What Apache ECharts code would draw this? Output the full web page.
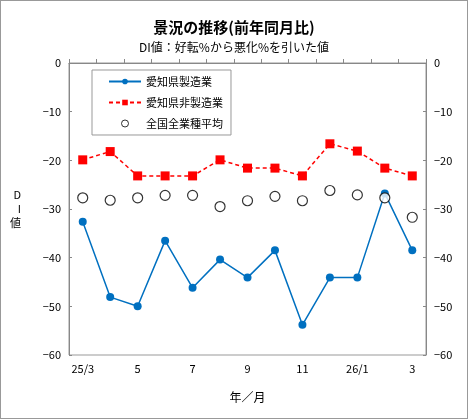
<!DOCTYPE html>
<html>
<head>
<meta charset="utf-8">
<script src="https://cdn.jsdelivr.net/npm/echarts@6/dist/echarts.min.js"></script>
<style>
  html, body { margin: 0; padding: 0; background: #fff; }
  #chart { width: 468px; height: 419px; box-sizing: border-box; border: 1px solid #999; }
</style>
</head>
<body>
<div id="chart"></div>
<script>
// 年／月
const months = ["25/3", "4", "5", "6", "7", "8", "9", "10", "11", "12", "26/1", "2", "3"];
// 愛知県製造業
const aichiMfg = [-32.6, -48.1, -50.0, -36.5, -46.2, -40.4, -44.1, -38.5, -53.8, -44.1, -44.1, -26.8, -38.5];
// 愛知県非製造業
const aichiNonMfg = [-19.9, -18.2, -23.2, -23.2, -23.2, -19.9, -21.6, -21.6, -23.2, -16.6, -18.1, -21.6, -23.2];
// 全国全業種平均
const nationAll = [-27.7, -28.2, -27.7, -27.2, -27.2, -29.5, -28.3, -27.4, -28.3, -26.2, -27.1, -27.7, -31.7];

const font = '"Noto Sans CJK JP", sans-serif';
const minus = (v) => String(v).replace("-", "−");

const yAxisBase = {
  type: "value",
  min: -60,
  max: 0,
  interval: 10,
  axisLine: { show: true, lineStyle: { color: "#888" } },
  axisTick: { show: true, inside: true, length: 3, lineStyle: { color: "#888" } },
  splitLine: { show: false },
  axisLabel: { color: "#000", fontSize: 11, fontFamily: font, formatter: minus },
};

const option = {
  animation: false,
  textStyle: { fontFamily: font },
  title: [
    {
      text: "景況の推移(前年同月比)",
      left: "center",
      top: 14,
      textStyle: { fontSize: 15, fontWeight: "bold", color: "#000", fontFamily: font },
    },
    {
      text: "DI値：好転%から悪化%を引いた値",
      left: "center",
      top: 35,
      textStyle: { fontSize: 12, fontWeight: "normal", color: "#000", fontFamily: font },
    },
  ],
  grid: {
    left: 68,
    right: 41,
    top: 62,
    bottom: 63,
    show: true,
    borderColor: "#999",
    borderWidth: 1,
  },
  legend: {
    orient: "vertical",
    left: 91,
    top: 69,
    padding: [6, 8, 6, 16],
    itemGap: 10,
    itemWidth: 32,
    itemHeight: 7,
    borderColor: "#999",
    borderWidth: 1,
    textStyle: { fontSize: 11, color: "#000", fontFamily: font },
    data: [
      "愛知県製造業",
      "愛知県非製造業",
      { name: "全国全業種平均", itemStyle: { borderWidth: 1 } },
    ],
  },
  xAxis: {
    type: "category",
    data: months,
    boundaryGap: true,
    name: "年／月",
    nameLocation: "middle",
    nameGap: 36,
    nameTextStyle: { fontSize: 12, color: "#000", fontFamily: font },
    axisLine: { lineStyle: { color: "#888" } },
    axisTick: { show: true, inside: true, length: 4, interval: 0, lineStyle: { color: "#888" } },
    axisLabel: { interval: 1, color: "#000", fontSize: 11, margin: 8, fontFamily: font },
  },
  yAxis: [
    Object.assign({}, yAxisBase, {
      position: "left",
      name: "D\nI\n値",
      nameLocation: "middle",
      nameRotate: 0,
      nameGap: 48,
      nameTextStyle: { fontSize: 11, color: "#000", lineHeight: 14, fontFamily: font },
    }),
    Object.assign({}, yAxisBase, { position: "right" }),
  ],
  series: [
    {
      name: "愛知県製造業",
      type: "line",
      data: aichiMfg,
      color: "#0070C0",
      symbol: "circle",
      symbolSize: 8,
      lineStyle: { width: 1.5, color: "#0070C0" },
      itemStyle: { color: "#0070C0" },
      z: 3,
    },
    {
      name: "愛知県非製造業",
      type: "line",
      data: aichiNonMfg,
      color: "#FF0000",
      symbol: "rect",
      symbolSize: 9,
      lineStyle: { width: 1.5, type: [4, 3], color: "#FF0000" },
      itemStyle: { color: "#FF0000" },
      z: 3,
    },
    {
      name: "全国全業種平均",
      type: "scatter",
      data: nationAll,
      symbol: "circle",
      symbolSize: 10,
      itemStyle: { color: "#fff", borderColor: "#000", borderWidth: 1.2 },
      z: 4,
    },
  ],
};

echarts.init(document.getElementById("chart")).setOption(option);
</script>
</body>
</html>
